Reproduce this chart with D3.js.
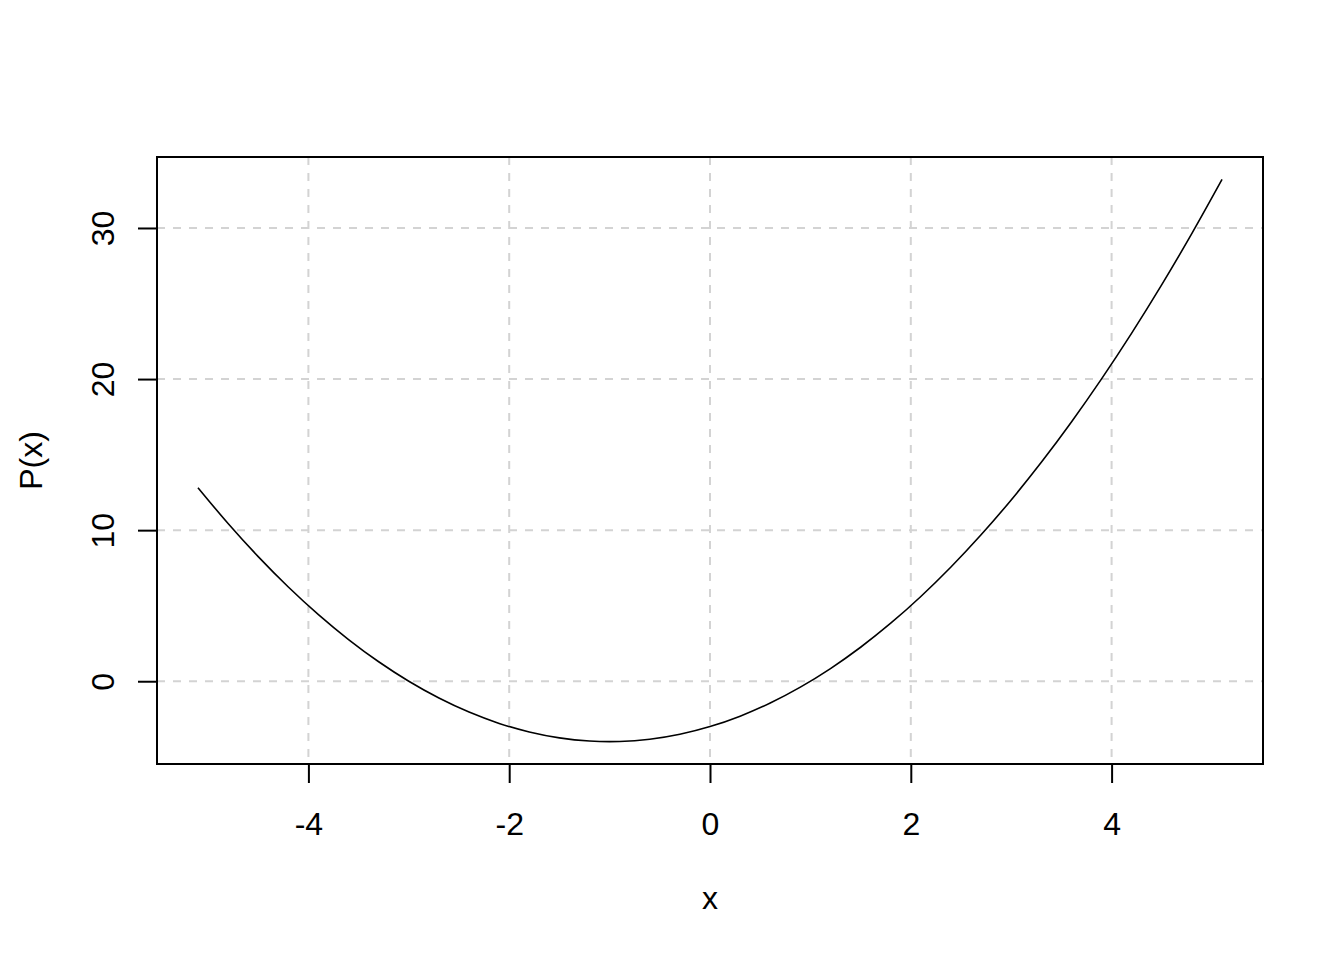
<!DOCTYPE html>
<html>
<head>
<meta charset="utf-8">
<script src="https://cdn.jsdelivr.net/npm/d3@7"></script>
<style>
  body { margin: 0; background: #fff; }
  text { font-family: "Liberation Sans", Arial, sans-serif; }
</style>
</head>
<body>
<svg id="chart"></svg>
<script>
// Curve points
const xValues = [-5.1, -4.8, -4.5, -4.2, -3.9, -3.6, -3.3, -3.0, -2.7, -2.4, -2.1, -1.8,
    -1.5, -1.2, -0.9, -0.6, -0.3, 0, 0.3, 0.6, 0.9, 1.2, 1.5, 1.8, 2.1, 2.4, 2.7, 3.0,
    3.3, 3.6, 3.9, 4.2, 4.5, 4.8, 5.1];
const pValues = [12.81, 10.44, 8.25, 6.24, 4.41, 2.76, 1.29, 0, -1.11, -2.04, -2.79, -3.36,
    -3.75, -3.96, -3.99, -3.84, -3.51, -3, -2.31, -1.44, -0.39, 0.84, 2.25, 3.84, 5.61, 7.56,
    9.69, 12, 14.49, 17.16, 20.01, 23.04, 26.25, 29.64, 33.21];
const xTicks = [-4, -2, 0, 2, 4];
const yTicks = [0, 10, 20, 30];

const width = 1344, height = 960;
const margin = { top: 157, right: 81, bottom: 196, left: 157 };
const fontSize = 32;

const svg = d3.select("#chart").attr("width", width).attr("height", height);

// R style 4% extension of data range
const xExt = d3.extent(xValues), yExt = d3.extent(pValues);
const xPad = (xExt[1] - xExt[0]) * 0.04, yPad = (yExt[1] - yExt[0]) * 0.04;

const x = d3.scaleLinear()
    .domain([xExt[0] - xPad, xExt[1] + xPad])
    .range([margin.left, width - margin.right]);
const y = d3.scaleLinear()
    .domain([yExt[0] - yPad, yExt[1] + yPad])
    .range([height - margin.bottom, margin.top]);

const plotBottom = height - margin.bottom;
const plotRight = width - margin.right;

// grid
const grid = svg.append("g")
    .attr("stroke", "#d3d3d3")
    .attr("stroke-width", 2)
    .attr("stroke-dasharray", "8,8");
grid.selectAll(".vgrid")
    .data(xTicks)
    .join("line")
    .attr("x1", d => x(d)).attr("x2", d => x(d))
    .attr("y1", margin.top).attr("y2", plotBottom);
grid.selectAll(".hgrid")
    .data(yTicks)
    .join("line")
    .attr("x1", margin.left).attr("x2", plotRight)
    .attr("y1", d => y(d)).attr("y2", d => y(d));

// curve
const points = xValues.map((v, i) => [v, pValues[i]]);
svg.append("path")
    .datum(points)
    .attr("fill", "none")
    .attr("stroke", "#000")
    .attr("stroke-width", 1.6)
    .attr("d", d3.line().x(d => x(d[0])).y(d => y(d[1])).curve(d3.curveCatmullRom));

// axes, hyphen minus like R
const fmt = d => String(d);
const xAxis = svg.append("g")
    .attr("transform", `translate(0,${plotBottom})`)
    .call(d3.axisBottom(x).tickValues(xTicks).tickSize(19).tickPadding(0).tickFormat(fmt));
const yAxis = svg.append("g")
    .attr("transform", `translate(${margin.left},0)`)
    .call(d3.axisLeft(y).tickValues(yTicks).tickSize(19).tickFormat(fmt));

[xAxis, yAxis].forEach(a => {
    a.select(".domain").remove();
    a.selectAll(".tick line").attr("stroke", "#000").attr("stroke-width", 2);
});

xAxis.selectAll(".tick text")
    .attr("y", 835 - plotBottom)
    .attr("dy", null)
    .style("font-size", fontSize + "px")
    .attr("fill", "#000")
    .attr("text-anchor", "middle");

yAxis.selectAll(".tick text")
    .attr("x", null).attr("dy", null)
    .attr("transform", `translate(${114 - margin.left},0) rotate(-90)`)
    .attr("text-anchor", "middle")
    .style("font-size", fontSize + "px")
    .attr("fill", "#000");

// box
svg.append("rect")
    .attr("x", margin.left).attr("y", margin.top)
    .attr("width", plotRight - margin.left)
    .attr("height", plotBottom - margin.top)
    .attr("fill", "none")
    .attr("stroke", "#000")
    .attr("stroke-width", 2);

// axis titles
svg.append("text")
    .attr("x", (margin.left + plotRight) / 2)
    .attr("y", 909)
    .attr("text-anchor", "middle")
    .style("font-size", fontSize + "px")
    .text("x");

svg.append("text")
    .attr("transform", `translate(42,${(margin.top + plotBottom) / 2}) rotate(-90)`)
    .attr("text-anchor", "middle")
    .style("font-size", fontSize + "px")
    .text("P(x)");
</script>
</body>
</html>
